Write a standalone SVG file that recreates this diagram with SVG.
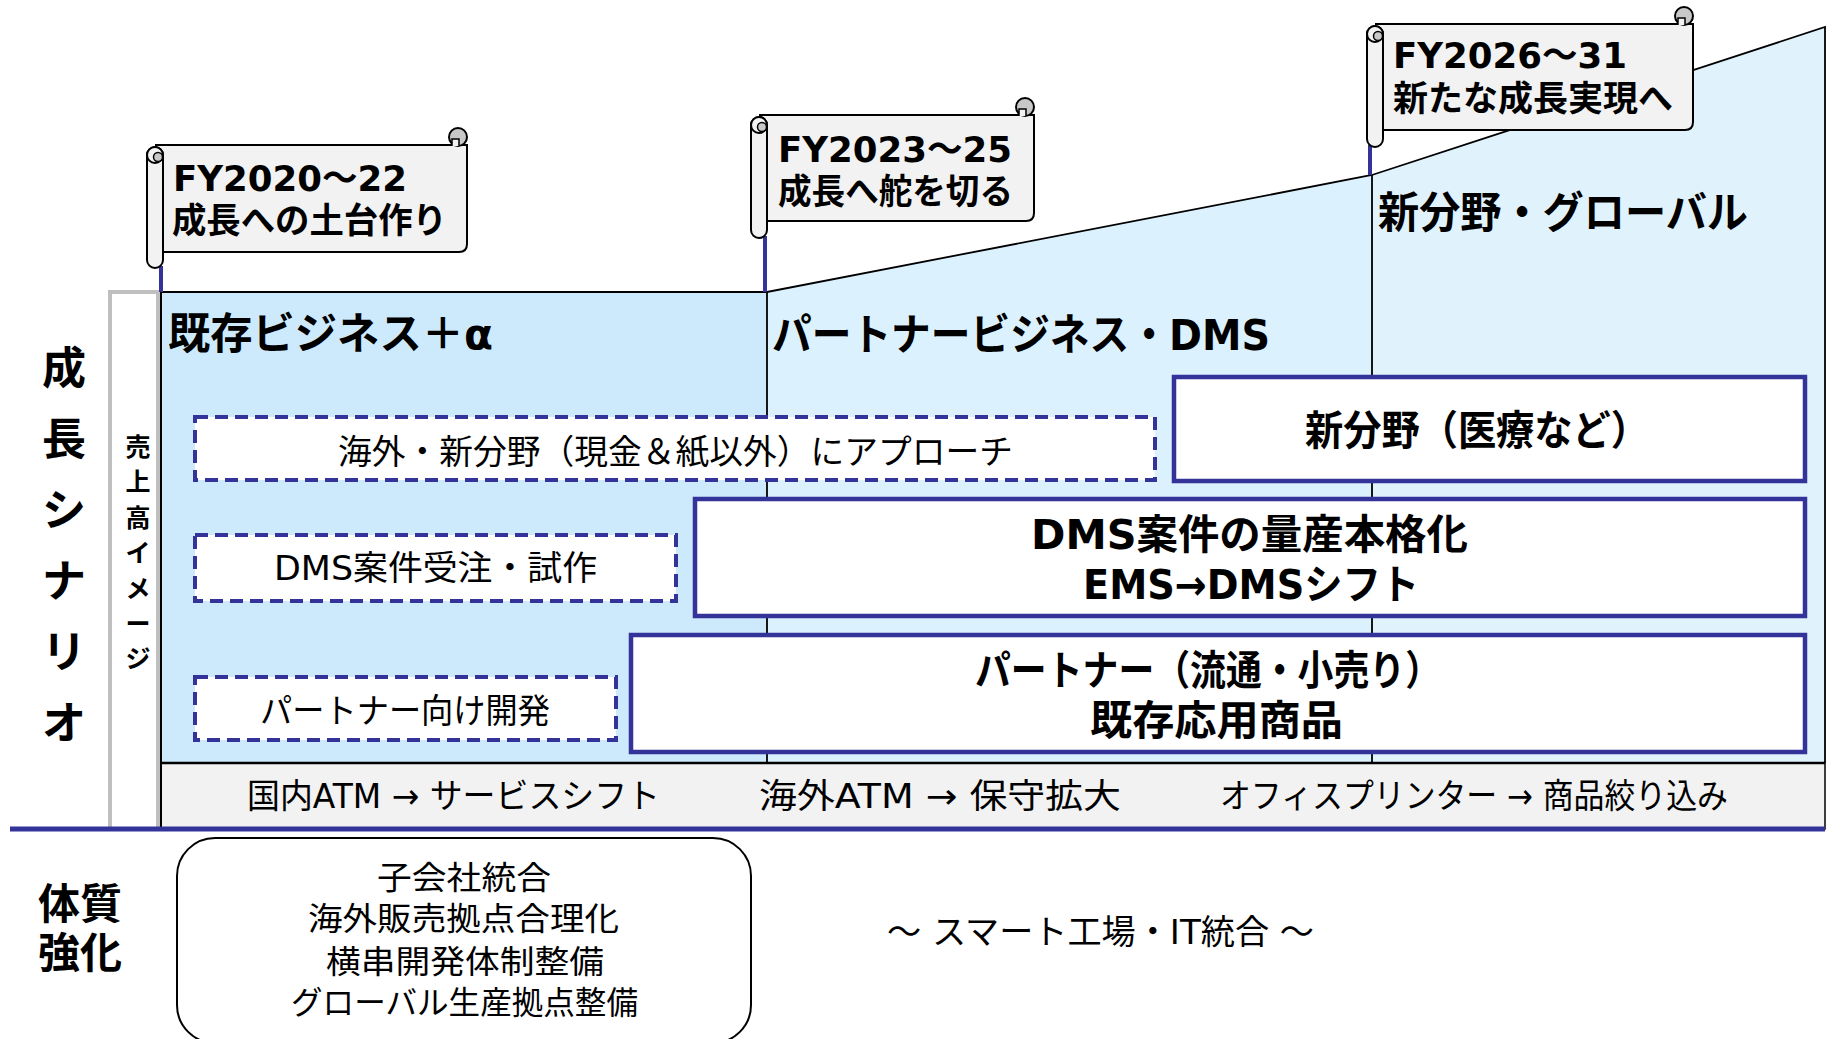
<svg xmlns="http://www.w3.org/2000/svg" xmlns:xlink="http://www.w3.org/1999/xlink" width="1830" height="1039" viewBox="0 0 1830 1039">
<style>
text { font-family: "DejaVu Sans", "Noto Sans CJK JP", sans-serif; fill: #000; }
.b { font-weight: bold; }
.flag { fill: #f2f2f2; stroke: #000; stroke-width: 2; }
.dash { fill: #fff; stroke: #333399; stroke-width: 4; stroke-dasharray: 13 7; }
.solid { fill: #fff; stroke: #333399; stroke-width: 4.5; }
.pole { stroke: #333399; stroke-width: 4; fill: none; }
.edge { stroke: #000; stroke-width: 1.8; fill: none; }
</style>
<defs>
  <g id="roll">
    <rect x="0" y="0" width="16" height="121" rx="8" fill="#f2f2f2" stroke="#000" stroke-width="2"/>
    <circle cx="8" cy="8" r="8" fill="#f2f2f2" stroke="#000" stroke-width="2"/>
    <circle cx="11" cy="10" r="4.5" fill="#c8c8c8" stroke="#000" stroke-width="1.5"/>
  </g>
  <g id="curl">
    <circle cx="9" cy="9" r="9" fill="#c8c8c8" stroke="#000" stroke-width="2"/>
    <path d="M3 18 V11 H10 V18" fill="#f2f2f2" stroke="#000" stroke-width="1.5"/>
  </g>
</defs>
<rect width="1830" height="1039" fill="#fff"/>

<g id="areas">
  <rect x="161" y="292" width="606" height="471" fill="#cdeafd"/>
  <polygon points="767,292 1372,175 1372,763 767,763" fill="#dbf1fd"/>
  <polygon points="1372,175 1825,27 1825,763 1372,763" fill="#e0f3fd"/>
  <path class="edge" d="M161 292 H767 L1372 175 L1825 27 V763"/>
  <path class="edge" d="M767 292 V763 M1372 175 V763"/>
</g>

<g id="band">
  <rect x="161" y="763" width="1664" height="66" fill="#f2f2f2" stroke="#000" stroke-width="1.5"/>
  <line x1="161" y1="763" x2="1825" y2="763" stroke="#000" stroke-width="2.5"/>
  <text x="247" y="808" font-size="34" textLength="413" lengthAdjust="spacingAndGlyphs">国内ATM → サービスシフト</text>
  <text x="759" y="808" font-size="34" textLength="362" lengthAdjust="spacingAndGlyphs">海外ATM → 保守拡大</text>
  <text x="1220" y="808" font-size="34" textLength="508" lengthAdjust="spacingAndGlyphs">オフィスプリンター → 商品絞り込み</text>
</g>

<g id="sales-image-column">
  <rect x="110" y="292" width="48" height="537" fill="#fff" stroke="#bfbfbf" stroke-width="4"/>
  <line x1="161" y1="292" x2="161" y2="829" stroke="#000" stroke-width="2"/>
  <g class="b" font-size="25" text-anchor="middle">
    <text x="138" y="456">売</text>
    <text x="138" y="491">上</text>
    <text x="138" y="527">高</text>
    <text x="138" y="562">イ</text>
    <text x="138" y="598">メ</text>
    <text x="138" y="633">ー</text>
    <text x="138" y="668">ジ</text>
  </g>
</g>

<g id="growth-scenario-label" class="b" font-size="44" text-anchor="middle">
  <text x="64" y="384">成</text>
  <text x="64" y="455">長</text>
  <text x="64" y="526">シ</text>
  <text x="64" y="597">ナ</text>
  <text x="64" y="668">リ</text>
  <text x="64" y="739">オ</text>
</g>

<g id="baseline">
  <line x1="10" y1="829" x2="1825" y2="829" stroke="#333399" stroke-width="5"/>
</g>

<g id="connectors">
  <line class="pole" x1="161" y1="266" x2="161" y2="292"/>
  <line class="pole" x1="765" y1="236" x2="765" y2="292"/>
  <line class="pole" x1="1370" y1="145" x2="1370" y2="175"/>
</g>

<g id="header-1">
  <text class="b" x="168" y="349" font-size="43" textLength="325" lengthAdjust="spacingAndGlyphs">既存ビジネス＋α</text>
</g>
<g id="header-2">
  <text class="b" x="772" y="350" font-size="43" textLength="498" lengthAdjust="spacingAndGlyphs">パートナービジネス・DMS</text>
</g>
<g id="header-3">
  <text class="b" x="1378" y="228" font-size="43" textLength="370" lengthAdjust="spacingAndGlyphs">新分野・グローバル</text>
</g>

<g id="flag-1">
  <path class="flag" d="M155 145 H467 V244 Q467 252 459 252 H163"/>
  <use xlink:href="#curl" href="#curl" x="449" y="128"/>
  <use xlink:href="#roll" href="#roll" x="147" y="147"/>
  <text class="b" x="173" y="191" font-size="36" textLength="234" lengthAdjust="spacingAndGlyphs">FY2020～22</text>
  <text class="b" x="172" y="233" font-size="35" textLength="275" lengthAdjust="spacingAndGlyphs">成長への土台作り</text>
</g>
<g id="flag-2">
  <path class="flag" d="M759 115 H1034 V213 Q1034 221 1026 221 H767"/>
  <use xlink:href="#curl" href="#curl" x="1016" y="98"/>
  <use xlink:href="#roll" href="#roll" x="751" y="117"/>
  <text class="b" x="778" y="162" font-size="36" textLength="234" lengthAdjust="spacingAndGlyphs">FY2023～25</text>
  <text class="b" x="778" y="204" font-size="35" textLength="235" lengthAdjust="spacingAndGlyphs">成長へ舵を切る</text>
</g>
<g id="flag-3">
  <path class="flag" d="M1375 24 H1693 V122 Q1693 130 1685 130 H1383"/>
  <use xlink:href="#curl" href="#curl" x="1675" y="7"/>
  <use xlink:href="#roll" href="#roll" x="1367" y="26"/>
  <text class="b" x="1393" y="68" font-size="36" textLength="234" lengthAdjust="spacingAndGlyphs">FY2026～31</text>
  <text class="b" x="1393" y="111" font-size="35" textLength="280" lengthAdjust="spacingAndGlyphs">新たな成長実現へ</text>
</g>

<g id="dashed-overseas">
  <rect class="dash" x="195" y="417" width="960" height="63"/>
  <text x="338" y="464" font-size="34" textLength="675" lengthAdjust="spacingAndGlyphs">海外・新分野（現金＆紙以外）にアプローチ</text>
</g>
<g id="dashed-dms">
  <rect class="dash" x="195" y="535" width="481" height="66"/>
  <text x="274" y="580" font-size="34" textLength="323" lengthAdjust="spacingAndGlyphs">DMS案件受注・試作</text>
</g>
<g id="dashed-partner">
  <rect class="dash" x="195" y="677" width="421" height="63"/>
  <text x="260" y="723" font-size="34" textLength="290" lengthAdjust="spacingAndGlyphs">パートナー向け開発</text>
</g>

<g id="box-new-field">
  <rect class="solid" x="1174" y="377" width="631" height="104"/>
  <text class="b" x="1305" y="445" font-size="41" textLength="344" lengthAdjust="spacingAndGlyphs">新分野（医療など）</text>
</g>
<g id="box-dms">
  <rect class="solid" x="695" y="499" width="1110" height="117"/>
  <text class="b" x="1031" y="549" font-size="41" textLength="437" lengthAdjust="spacingAndGlyphs">DMS案件の量産本格化</text>
  <text class="b" x="1083" y="599" font-size="41" textLength="336" lengthAdjust="spacingAndGlyphs">EMS→DMSシフト</text>
</g>
<g id="box-partner">
  <rect class="solid" x="631" y="635" width="1174" height="117"/>
  <text class="b" x="975" y="685" font-size="41" textLength="466" lengthAdjust="spacingAndGlyphs">パートナー（流通・小売り）</text>
  <text class="b" x="1090" y="735" font-size="41" textLength="253" lengthAdjust="spacingAndGlyphs">既存応用商品</text>
</g>

<g id="constitution-label" class="b" font-size="42">
  <text x="38" y="919" textLength="84" lengthAdjust="spacingAndGlyphs">体質</text>
  <text x="38" y="968" textLength="84" lengthAdjust="spacingAndGlyphs">強化</text>
</g>

<g id="constitution-box">
  <rect x="177" y="838" width="574" height="205" rx="38" fill="#fff" stroke="#000" stroke-width="2"/>
  <text x="377" y="889" font-size="32" textLength="174" lengthAdjust="spacingAndGlyphs">子会社統合</text>
  <text x="308" y="930" font-size="32" textLength="311" lengthAdjust="spacingAndGlyphs">海外販売拠点合理化</text>
  <text x="326" y="973" font-size="32" textLength="278" lengthAdjust="spacingAndGlyphs">横串開発体制整備</text>
  <text x="291" y="1014" font-size="32" textLength="347" lengthAdjust="spacingAndGlyphs">グローバル生産拠点整備</text>
</g>

<g id="smart-factory">
  <text x="887" y="944" font-size="34" textLength="427" lengthAdjust="spacingAndGlyphs">～ スマート工場・IT統合 ～</text>
</g>
</svg>
